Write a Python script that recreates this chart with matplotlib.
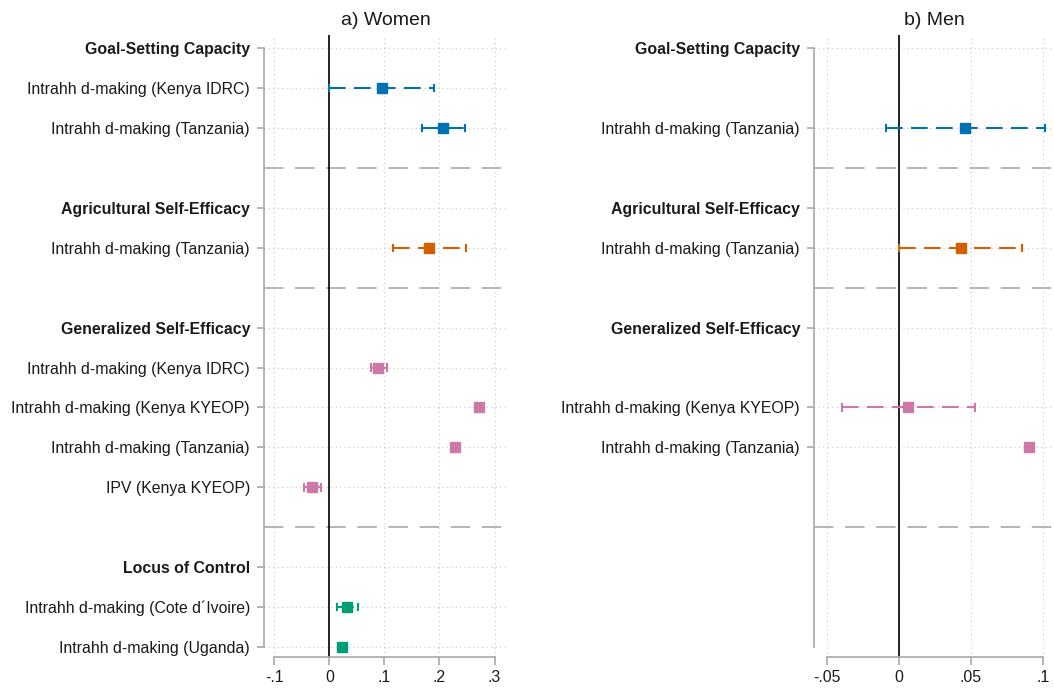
import numpy as np
import matplotlib
matplotlib.use("Agg")
import matplotlib.pyplot as plt

plt.rcParams['font.family'] = ['Liberation Sans', 'DejaVu Sans']

# ---- data (row positions counted from top, 1..16) ----
HEADINGS = {1: "Goal-Setting Capacity", 5: "Agricultural Self-Efficacy",
            8: "Generalized Self-Efficacy", 14: "Locus of Control"}
SEPARATORS = [4, 7, 13]

# women
W_ROWS = [2, 3, 6, 9, 10, 11, 12, 15, 16]
W_LABELS = ["Intrahh d-making (Kenya IDRC)", "Intrahh d-making (Tanzania)",
            "Intrahh d-making (Tanzania)",
            "Intrahh d-making (Kenya IDRC)", "Intrahh d-making (Kenya KYEOP)",
            "Intrahh d-making (Tanzania)", "IPV (Kenya KYEOP)",
            "Intrahh d-making (Cote d\u00b4Ivoire)", "Intrahh d-making (Uganda)"]
W_EST = [0.095, 0.207, 0.181, 0.089, 0.272, 0.228, -0.031, 0.032, 0.022]
W_LO = [0.000, 0.169, 0.115, 0.075, 0.269, 0.225, -0.046, 0.014, 0.018]
W_HI = [0.190, 0.247, 0.249, 0.104, 0.275, 0.231, -0.016, 0.051, 0.026]
W_GROUP = ["goal", "goal", "agri", "gen", "gen", "gen", "gen", "loc", "loc"]
W_HEADS = [1, 5, 8, 14]

# men
M_ROWS = [3, 6, 10, 11]
M_LABELS = ["Intrahh d-making (Tanzania)", "Intrahh d-making (Tanzania)",
            "Intrahh d-making (Kenya KYEOP)", "Intrahh d-making (Tanzania)"]
M_EST = [0.0461, 0.043, 0.0066, 0.0905]
M_LO = [-0.0088, 0.0003, -0.0391, 0.0897]
M_HI = [0.1016, 0.086, 0.0533, 0.0913]
M_GROUP = ["goal", "agri", "gen", "gen"]
M_HEADS = [1, 5, 8]

COLORS = {"goal": "#0072b2", "agri": "#d55e00", "gen": "#cc79a7", "loc": "#009e73"}

GRAY = "#a8a8a8"


def panel(ax, rows, labels, est, lo, hi, groups, heads, xticks, xticklabels, xlim, title,
          sep_rows):
    ticks = sorted(list(rows) + list(heads))
    lab = {r: l for r, l in zip(rows, labels)}
    for h in heads:
        lab[h] = HEADINGS[h]
    ax.set_yticks(ticks)
    ax.set_yticklabels([lab[t] for t in ticks], fontsize=11.4, color="#1a1a1a")
    for t, tl in zip(ticks, ax.get_yticklabels()):
        if t in heads:
            tl.set_fontweight("bold")

    # grid
    for t in ticks:
        ax.axhline(t, color="#c8c8c8", lw=0.8, ls=(0, (1, 3)), zorder=0)
    for x in xticks:
        ax.axvline(x, color="#c8c8c8", lw=0.8, ls=(0, (1, 3)), zorder=0)
    for s in sep_rows:
        ax.axhline(s, color="#b4b4b4", lw=1.4, ls=(0, (10, 6)), zorder=1)
    ax.axvline(0, color="black", lw=1.2, zorder=2)

    for r, e, l, h, g in zip(rows, est, lo, hi, groups):
        c = COLORS[g]
        ax.plot([l, h], [r, r], color=c, lw=1.5, ls=(0, (8, 4)), zorder=3)
        ax.plot([l, l], [r - 0.08, r + 0.08], color=c, lw=1.5, zorder=3)
        ax.plot([h, h], [r - 0.08, r + 0.08], color=c, lw=1.5, zorder=3)
        ax.plot([e], [r], marker="s", ms=7.5, color=c, zorder=4)

    ax.set_xlim(*xlim)
    ax.set_ylim(16.25, 0.67)
    ax.set_xticks(xticks)
    ax.set_xticklabels(xticklabels, fontsize=11.4, color="#1a1a1a")
    for s in ["top", "right"]:
        ax.spines[s].set_visible(False)
    ax.spines["left"].set_bounds(1, 16)
    ax.spines["bottom"].set_bounds(xticks[0], xticks[-1])
    for s in ["left", "bottom"]:
        ax.spines[s].set_color(GRAY)
        ax.spines[s].set_linewidth(1.2)
    ax.tick_params(axis="y", length=5, color=GRAY, width=1.2, pad=5)
    ax.tick_params(axis="x", length=6, color=GRAY, width=1.2, pad=3)
    ax.set_title(title, fontsize=14, pad=7, color="#1a1a1a")


fig = plt.figure(figsize=(10.54, 6.89), dpi=100)
ax1 = fig.add_axes([264 / 1054, 32 / 689, 243 / 1054, 622 / 689])
ax2 = fig.add_axes([814 / 1054, 32 / 689, 240 / 1054, 622 / 689])

panel(ax1, W_ROWS, W_LABELS, W_EST, W_LO, W_HI, W_GROUP, W_HEADS,
      [-0.1, 0, 0.1, 0.2, 0.3], ["-.1", "0", ".1", ".2", ".3"], (-0.119, 0.3227),
      "a) Women", SEPARATORS)
panel(ax2, M_ROWS, M_LABELS, M_EST, M_LO, M_HI, M_GROUP, M_HEADS,
      [-0.05, 0, 0.05, 0.1], ["-.05", "0", ".05", ".1"], (-0.0588, 0.1079),
      "b) Men", SEPARATORS)

fig.savefig("out.png", dpi=100)
